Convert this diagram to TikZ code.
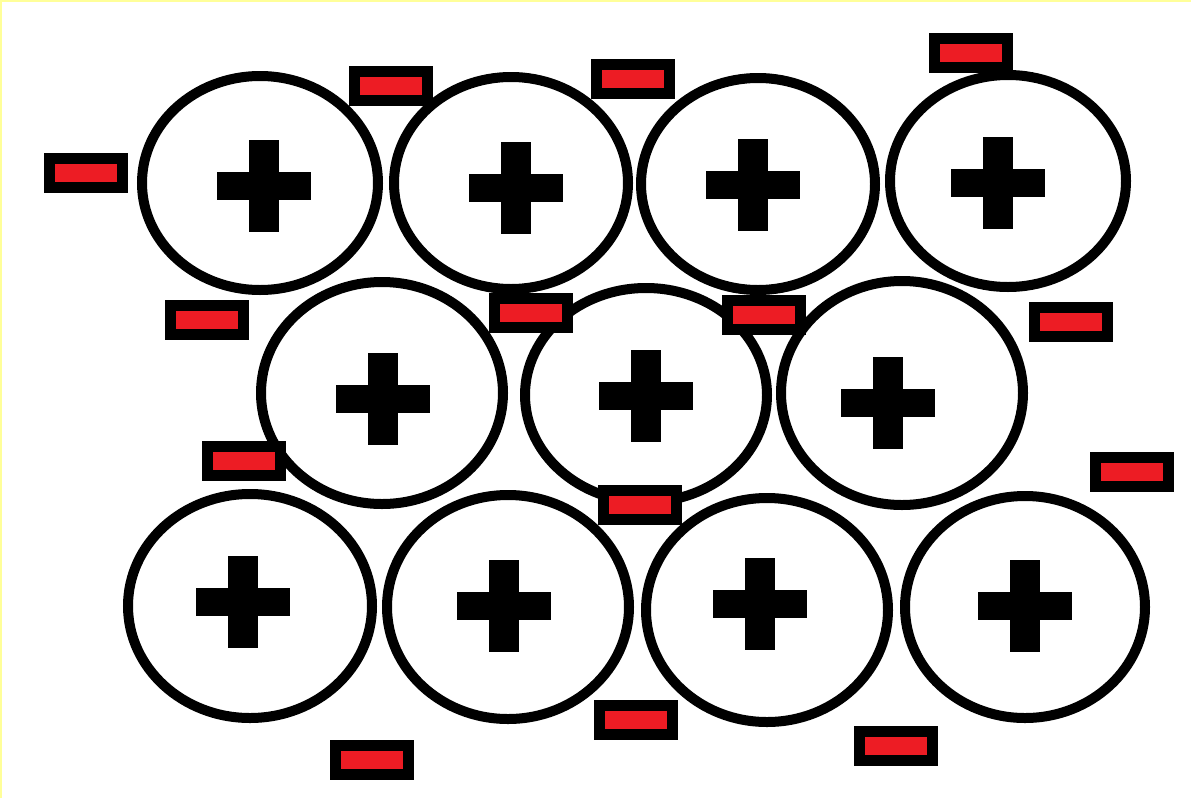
\documentclass[tikz,border=0pt]{standalone}
\usetikzlibrary{positioning}
\definecolor{paintred}{HTML}{ED1C24}
\definecolor{edgeyellow}{HTML}{FFFF99}
\tikzset{
    ion/.style={
        line width=10pt,
        black
    },
    electron/.style={
        draw=black,
        fill=paintred,
        line width=11pt,
        inner sep=0pt,
        minimum width=73pt,
        minimum height=29pt
    },
    plus sign/.pic={
        \fill[black] (-47,-14) rectangle (47,14);
        \fill[black] (-15,-46) rectangle (15,46);
    }
}
\begin{document}
\begin{tikzpicture}[x=1pt,y=-1pt]
    \useasboundingbox (0,0) rectangle (1191,798);
    \fill[white] (0,0) rectangle (1191,798);
    \draw[edgeyellow, line width=1.5pt] (0.75,798) -- (0.75,0.75) -- (1191,0.75);
    % positive ions
    \foreach \cx/\cy/\rx/\ry in {260/183/118/107, 511/183/117/106, 758/184/117/106, 1008/181/118/106,
                                 382/393/121/111, 646/395/121/107, 902/393/121/112,
                                 250/606/122/112, 508/607/121/112, 767/610/121/112, 1025/607/120/111}
        \draw[ion] (\cx,\cy) ellipse [x radius=\rx pt, y radius=\ry pt];
    \foreach \px/\py in {264/186, 516/188, 753/185, 998/183, 383/399, 646/396, 888/403,
                         243/602, 504/606, 760/604, 1025/606}
        \pic at (\px,\py) {plus sign};
    % free electrons
    \foreach \ex/\ey [count=\n] in {86/173, 391/86, 633/79, 971/53, 207/320, 531/313, 764/315,
                                    1071/322, 244/461, 640/505, 1132/472, 636/720, 372/760, 896/746}
        \node[electron] (e\n) at (\ex,\ey) {};
\end{tikzpicture}
\end{document}
